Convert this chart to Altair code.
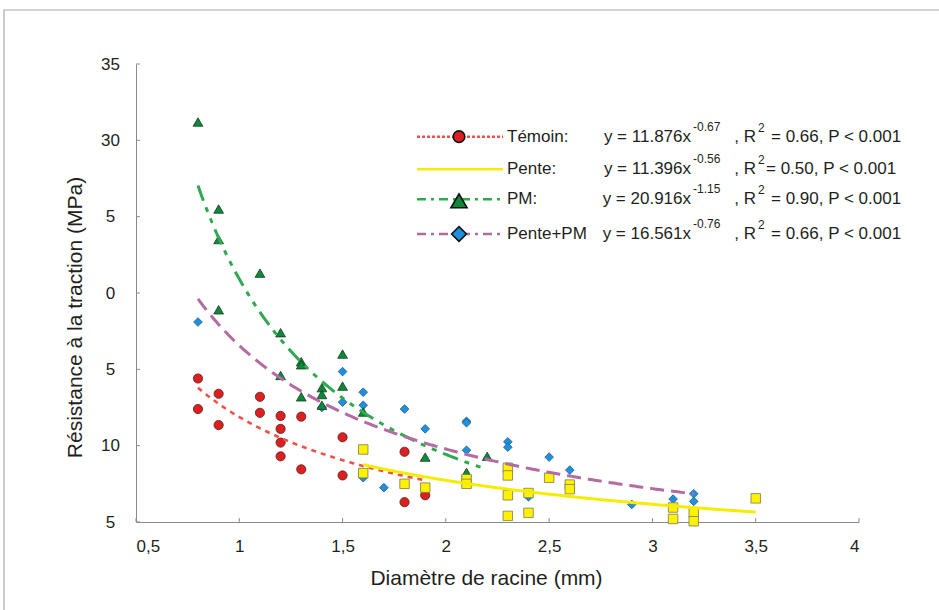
import altair as alt
import pandas as pd

# ---------------- data ----------------
temoin_x = [0.8, 0.8, 0.9, 0.9, 1.1, 1.1, 1.2, 1.2, 1.2, 1.2, 1.3, 1.3, 1.5, 1.5, 1.8, 1.8, 1.9]
temoin_y = [14.4, 12.4, 13.4, 11.35, 13.2, 12.15, 11.95, 11.1, 10.2, 9.3, 11.9, 8.45, 10.55, 8.05, 9.6, 6.3, 6.75]

pente_x = [1.6, 1.6, 1.8, 1.9, 2.1, 2.1, 2.3, 2.3, 2.3, 2.3, 2.4, 2.4, 2.5, 2.6, 2.6, 3.1, 3.1, 3.2, 3.2, 3.5]
pente_y = [9.75, 8.2, 7.5, 7.25, 7.8, 7.5, 8.55, 8.05, 6.75, 5.4, 6.9, 5.6, 7.9, 7.45, 7.15, 5.95, 5.2, 5.6, 5.05, 6.55]

pm_x = [0.8, 0.9, 0.9, 0.9, 1.1, 1.2, 1.2, 1.3, 1.3, 1.3, 1.4, 1.4, 1.4, 1.5, 1.5, 1.6, 1.9, 2.1, 2.2]
pm_y = [31.2, 25.5, 23.5, 18.9, 21.3, 17.4, 14.6, 15.5, 15.3, 13.2, 13.8, 13.35, 12.65, 16.0, 13.9, 12.2, 9.25, 8.25, 9.3]

ppm_x = [0.8, 1.4, 1.5, 1.5, 1.6, 1.6, 1.6, 1.7, 1.8, 1.9, 2.1, 2.1, 2.1, 2.3, 2.3, 2.4, 2.5, 2.6, 2.9, 3.1, 3.2, 3.2]
ppm_y = [18.1, 12.5, 14.85, 12.85, 13.5, 12.65, 7.9, 7.25, 12.4, 11.1, 11.6, 11.5, 9.7, 10.25, 9.9, 6.65, 9.25, 8.4, 6.15, 6.5, 6.85, 6.35]

# fitted power curves y = a * x^b (from the legend)
series_names = ["Témoin:", "Pente:", "PM:", "Pente+PM"]
fit_a = [11.876, 11.396, 20.916, 16.561]
fit_b = [-0.67, -0.56, -1.15, -0.76]
fit_xmin = [0.8, 1.6, 0.8, 0.8]
fit_xmax = [1.9, 3.5, 2.2, 3.2]
eq_main = ["y = 11.876x", "y = 11.396x", "y = 20.916x", "y = 16.561x"]
eq_exp = ["-0.67", "-0.56", "-1.15", "-0.76"]
eq_tail = ["= 0.66, P < 0.001", "= 0.50,  P < 0.001", "= 0.90, P < 0.001", "= 0.66, P < 0.001"]

x_ticks = [0.5, 1, 1.5, 2, 2.5, 3, 3.5, 4]
y_ticks = [5, 10, 15, 20, 25, 30, 35]
y_tick_labels = ["5", "10", "5", "0", "5", "30", "35"]

# ---------------- styles ----------------
FONT = "Liberation Sans"
TXT = "#231f20"
W, H = 723, 458

line_colors = ["#f0504a", "#f5ec00", "#2fa84f", "#b36ba3"]
line_dash = [[5, 5], [1, 0], [16, 7, 5, 7, 5, 7], [14, 7]]
legend_dash = [[3, 2], [1, 0], [9, 5, 3, 5], [9, 5, 3, 5]]
pt_shapes = ["circle", "square", "triangle-up", "diamond"]
pt_fill = ["#dc2020", "#fff200", "#0c8a3c", "#1e90dc"]
pt_stroke = ["#5a2020", "#7a7a50", "#1b3b1b", "#1a5a90"]
pt_size = [85, 90, 95, 75]
lg_size = [135, 0, 260, 220]

label_expr = " : ".join(
    [f"datum.value == {v} ? '{l}'" for v, l in zip(y_ticks, y_tick_labels)]
) + " : datum.label"

x_scale = alt.Scale(domain=[0.5, 4], nice=False, zero=False)
y_scale = alt.Scale(domain=[5, 35], nice=False, zero=False)

x_axis = alt.Axis(
    title="Diamètre de racine (mm)", values=x_ticks, format=".1~f",
    labelExpr="replace(datum.label, '.', ',')",
    grid=False, ticks=False, tickSize=0, labelPadding=16,
    labelFontSize=17, labelFont=FONT, labelColor=TXT,
    domainColor="#8a8a8a", domainWidth=1,
    titleFont=FONT, titleFontSize=21, titleFontWeight="normal", titleColor=TXT,
    titleX=350, titleY=56, titleAlign="center", titleBaseline="middle",
)
y_axis = alt.Axis(
    title="Résistance à la traction (MPa)", values=y_ticks, labelExpr=label_expr,
    grid=False, ticks=False, tickSize=0, labelPadding=26, labelAlign="center",
    labelBaseline="middle",
    labelFontSize=17, labelFont=FONT, labelColor=TXT,
    domainColor="#8a8a8a", domainWidth=1,
    titleFont=FONT, titleFontSize=21, titleFontWeight="normal", titleColor=TXT,
    titleX=-61, titleY=253, titleAngle=270, titleAlign="center", titleBaseline="middle",
)

X = alt.X("x:Q", scale=x_scale, axis=x_axis)
Y = alt.Y("y:Q", scale=y_scale, axis=y_axis)

one = pd.DataFrame({"k": [0]})
layers = []

# outer frame (top/left border of the figure)
layers.append(
    alt.Chart(one).mark_rect(fillOpacity=0, stroke="#a8a8a8", strokeWidth=1.2).encode(
        x=alt.value(-132), x2=alt.value(W + 200), y=alt.value(-54), y2=alt.value(H + 200)
    )
)

# inward tick marks
layers.append(
    alt.Chart(pd.DataFrame({"y": y_ticks})).mark_rule(color="#8a8a8a", strokeWidth=1).encode(
        y=Y, x=alt.value(0), x2=alt.value(4)
    )
)
layers.append(
    alt.Chart(pd.DataFrame({"x": x_ticks})).mark_rule(color="#8a8a8a", strokeWidth=1).encode(
        x=X, y=alt.value(H), y2=alt.value(H - 4)
    )
)

# points
pts = [(temoin_x, temoin_y), (pente_x, pente_y), (pm_x, pm_y), (ppm_x, ppm_y)]
order = [3, 0, 2, 1]
for i in order:
    xs, ys = pts[i]
    layers.append(
        alt.Chart(pd.DataFrame({"x": xs, "y": ys})).mark_point(
            shape=pt_shapes[i], filled=True, fill=pt_fill[i], stroke=pt_stroke[i],
            strokeWidth=0.8, size=pt_size[i], opacity=1,
        ).encode(x=X, y=Y)
    )

# fitted curves
for i in range(4):
    layers.append(
        alt.Chart(alt.sequence(fit_xmin[i], fit_xmax[i] + 0.005, 0.01, as_="x"))
        .transform_calculate(y=f"{fit_a[i]} * pow(datum.x, {fit_b[i]})")
        .mark_line(color=line_colors[i], strokeWidth=3 if i else 2.6,
                   strokeDash=line_dash[i], clip=True)
        .encode(x=X, y=Y)
    )

# custom legend
row_y = [72.7, 105.3, 135.3, 170.0]
for i in range(4):
    ry = row_y[i]
    layers.append(
        alt.Chart(one).mark_rule(color=line_colors[i], strokeWidth=2.6 if i != 1 else 2.4,
                                 strokeDash=legend_dash[i]).encode(
            x=alt.value(281), x2=alt.value(367), y=alt.value(ry)
        )
    )
    if i != 1:
        layers.append(
            alt.Chart(one).mark_point(
                shape=pt_shapes[i], filled=True, fill=pt_fill[i], stroke="#111111",
                strokeWidth=1.6, size=lg_size[i], opacity=1,
            ).encode(x=alt.value(323), y=alt.value(ry + (1.5 if i == 2 else 0)))
        )
    txt = dict(font=FONT, color=TXT, baseline="middle")
    layers.append(alt.Chart(one).mark_text(text=series_names[i], align="left", fontSize=17, **txt)
                  .encode(x=alt.value(371), y=alt.value(ry)))
    layers.append(alt.Chart(one).mark_text(text=eq_main[i], align="right", fontSize=17, **txt)
                  .encode(x=alt.value(555), y=alt.value(ry)))
    layers.append(alt.Chart(one).mark_text(text=eq_exp[i], align="left", fontSize=12, **txt)
                  .encode(x=alt.value(557), y=alt.value(ry - 10)))
    layers.append(alt.Chart(one).mark_text(text=", R", align="right", fontSize=17, **txt)
                  .encode(x=alt.value(620), y=alt.value(ry)))
    layers.append(alt.Chart(one).mark_text(text="2", align="left", fontSize=12, **txt)
                  .encode(x=alt.value(622), y=alt.value(ry - 9)))
    layers.append(alt.Chart(one).mark_text(text=eq_tail[i], align="left", fontSize=17, **txt)
                  .encode(x=alt.value(635 if i != 1 else 630), y=alt.value(ry)))

chart = (
    alt.layer(*layers)
    .properties(
        width=W, height=H,
        autosize=alt.AutoSizeParams(type="none"),
        padding={"left": 136, "top": 64, "right": 80, "bottom": 88},
        background="white",
    )
    .configure_view(stroke=None)
)

chart.save("out.html", embed_options={"renderer": "svg", "actions": False})
